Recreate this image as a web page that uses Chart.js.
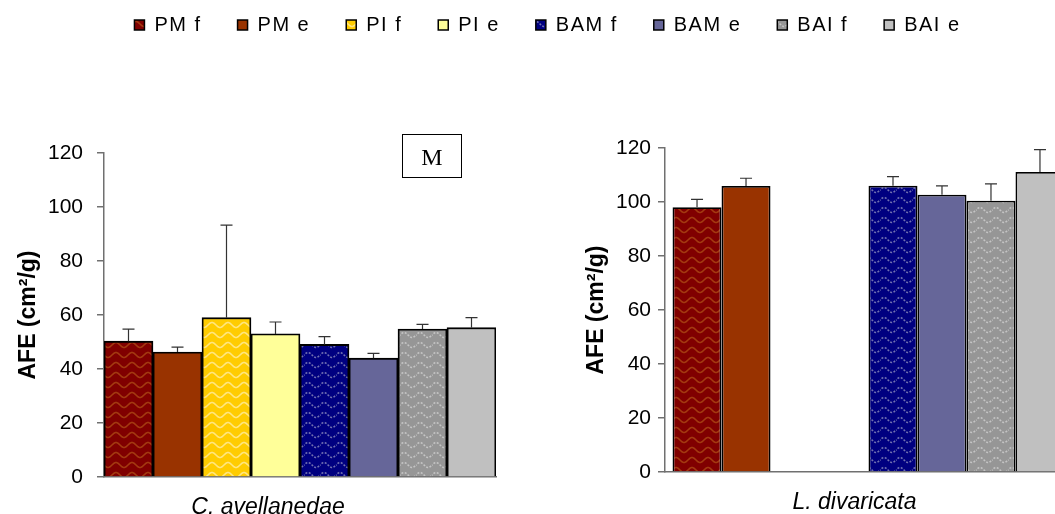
<!DOCTYPE html>
<html>
<head>
<meta charset="utf-8">
<script src="https://cdn.jsdelivr.net/npm/chart.js@4.4.0/dist/chart.umd.min.js"></script>
<style>
  html, body { margin: 0; padding: 0; background: #fff; overflow: hidden; width: 1055px; height: 514px; position: relative; }
  canvas { position: absolute; }
  #legendChart { left: 20px; top: -21px; }
  #chartC { left: 0; top: 100px; }
  #chartL { left: 560px; top: 95px; }
  #boxM {
    position: absolute; left: 402px; top: 134px; width: 58px; height: 42px;
    border: 1.5px solid #000; font: 24px 'Liberation Serif', 'Times New Roman', serif;
    text-align: center; line-height: 44px; color: #000;
  }
</style>
</head>
<body>
<canvas id="legendChart" width="1055" height="220"></canvas>
<canvas id="chartC" width="520" height="414"></canvas>
<canvas id="chartL" width="520" height="419"></canvas>
<div id="boxM">M</div>

<script>
'use strict';

// ── DATOS ───────────────────────────────────────────────────────
var seriesNames    = ['PM f', 'PM e', 'PI f', 'PI e', 'BAM f', 'BAM e', 'BAI f', 'BAI e'];
var speciesLeft    = ['C. avellanedae'];
var speciesRight   = ['L. divaricata'];
var yTicks         = [0, 20, 40, 60, 80, 100, 120];

var avellanedaeAfe = [50.3, 46.3, 59.0, 53.0, 49.1, 44.0, 54.8, 55.3];
var avellanedaeErr = [4.5, 1.8, 34.3, 4.4, 2.9, 1.8, 1.7, 3.7];
var divaricataAfe  = [98.1, 105.9, null, null, 106.0, 102.7, 100.5, 111.1];
var divaricataErr  = [2.9, 2.9, null, null, 3.4, 3.3, 6.2, 8.3];

Chart.defaults.font.family = "'Liberation Sans', Arial, sans-serif";
Chart.defaults.color = '#000';

// ── TRAMAS ──────────────────────────────────────────────────────
function wavePattern(bg, fg, dashed) {
  var c = document.createElement('canvas');
  c.width = 16; c.height = 10;
  var g = c.getContext('2d');
  g.fillStyle = bg;
  g.fillRect(0, 0, 16, 10);
  g.strokeStyle = fg;
  g.lineWidth = 1.6;
  if (dashed) g.setLineDash([2, 1.5]);
  g.beginPath();
  for (var x = -1; x <= 17; x += 0.5) {
    var y = 5 - 2.5 * Math.sin(x / 16 * 2 * Math.PI);
    if (x === -1) g.moveTo(x, y); else g.lineTo(x, y);
  }
  g.stroke();
  return g.createPattern(c, 'repeat');
}

var fills = [
  wavePattern('#800000', '#a33a10'),
  '#993300',
  wavePattern('#ffcc00', '#ffe680'),
  '#ffff99',
  wavePattern('#000080', '#7070b0', true),
  '#666699',
  wavePattern('#969696', '#c4c4c4', true),
  '#c0c0c0'
];

// ── BARRAS DE ERROR ─────────────────────────────────────────────
var errorBars = {
  id: 'errorBars',
  afterDatasetsDraw: function (chart) {
    var ctx = chart.ctx;
    var y   = chart.scales.y;
    ctx.save();
    ctx.strokeStyle = '#333';
    ctx.lineWidth   = 1.2;
    chart.data.datasets.forEach(function (ds, i) {
      var meta = chart.getDatasetMeta(i);
      ds.data.forEach(function (v, j) {
        var e = ds.errors[j];
        if (v == null || e == null) return;
        var bar = meta.data[j];
        var top = y.getPixelForValue(v + e);
        ctx.beginPath();
        ctx.moveTo(bar.x, bar.y);
        ctx.lineTo(bar.x, top);
        ctx.moveTo(bar.x - 6, top);
        ctx.lineTo(bar.x + 6, top);
        ctx.stroke();
      });
    });
    ctx.restore();
  }
};

// ── GRAFICO ─────────────────────────────────────────────────────
function makeChart(id, species, means, errs, opt) {
  var datasets = seriesNames.map(function (name, i) {
    return {
      label             : name,
      data              : [means[i]],
      errors            : [errs[i]],
      backgroundColor   : fills[i],
      borderColor       : '#000',
      borderWidth       : 1.8,
      barPercentage     : 1,
      categoryPercentage: opt.catPct
    };
  });

  return new Chart(document.getElementById(id), {
    type: 'bar',
    data: { labels: species, datasets: datasets },
    options: {
      responsive: false,
      animation : false,
      layout: { padding: { top: opt.padTop, right: opt.padRight, bottom: 0, left: 0 } },
      plugins: { legend: { display: false }, tooltip: { enabled: false } },
      scales: {
        x: {
          grid  : { display: false },
          border: { color: '#707070', width: 1.5 },
          ticks : {
            padding    : 9,
            labelOffset: opt.labelOffset,
            font       : { size: 23, style: 'italic' },
            color      : '#000'
          },
          afterFit: function (s) { s.height = opt.xHeight; }
        },
        y: {
          min: 0, max: 120,
          grid  : { drawOnChartArea: false, drawTicks: true, tickLength: 7, color: '#707070', lineWidth: 1.5 },
          border: { color: '#707070', width: 1.5 },
          ticks : { padding: opt.tickPad, font: { size: 21 }, color: '#000' },
          title : {
            display: true,
            text   : 'AFE (cm²/g)',
            font   : { size: 23, weight: 'bold' },
            color  : '#000',
            padding: { top: opt.titlePad, bottom: 0 }
          },
          afterBuildTicks: function (s) {
            s.ticks = yTicks.map(function (v) { return { value: v }; });
          },
          afterFit: function (s) { s.width = opt.yWidth; }
        }
      }
    },
    plugins: [errorBars]
  });
}

makeChart('chartC', speciesLeft, avellanedaeAfe, avellanedaeErr, {
  catPct: 1, padTop: 53, padRight: 24, xHeight: 37, yWidth: 104,
  tickPad: 14, titlePad: 15, labelOffset: -32
});

makeChart('chartL', speciesRight, divaricataAfe, divaricataErr, {
  catPct: 0.963, padTop: 53, padRight: 8, xHeight: 42, yWidth: 105,
  tickPad: 7, titlePad: 23, labelOffset: -14
});

// ── LEYENDA ─────────────────────────────────────────────────────
var letterSpacing = {
  id: 'letterSpacing',
  beforeLayout: function (chart) { chart.ctx.letterSpacing = '1.5px'; },
  beforeDraw  : function (chart) { chart.ctx.letterSpacing = '1.5px'; }
};

new Chart(document.getElementById('legendChart'), {
  type: 'bar',
  data: {
    labels: [],
    datasets: seriesNames.map(function (name, i) {
      return { label: name, data: [], backgroundColor: fills[i], borderColor: '#000', borderWidth: 1.5 };
    })
  },
  options: {
    responsive: false,
    animation : false,
    scales: { x: { display: false }, y: { display: false } },
    plugins: {
      tooltip: { enabled: false },
      legend : {
        display : true,
        position: 'top',
        labels  : { boxWidth: 10, boxHeight: 10, padding: 36, color: '#000', font: { size: 20 } }
      }
    }
  },
  plugins: [letterSpacing]
});
</script>
</body>
</html>
